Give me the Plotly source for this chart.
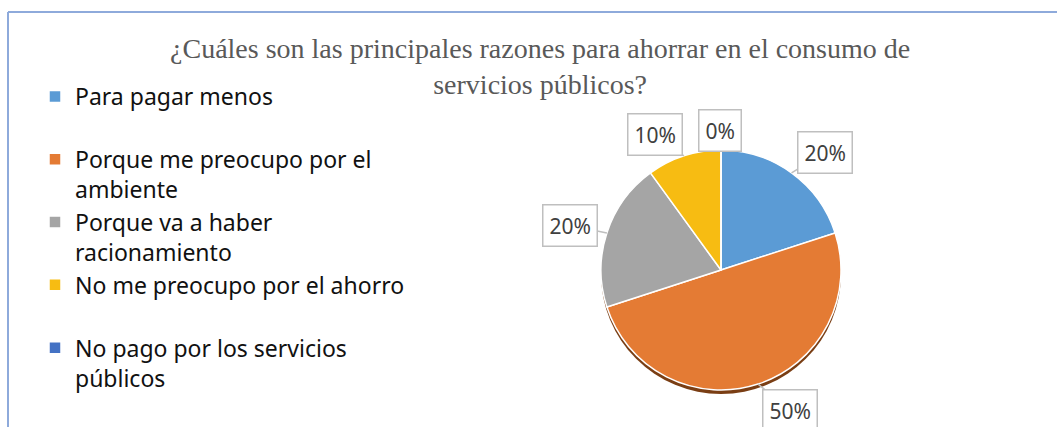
import math
import plotly.graph_objects as go

# ---- data ----
categories = [
    "Para pagar menos",
    "Porque me preocupo por el ambiente",
    "Porque va a haber racionamiento",
    "No me preocupo por el ahorro",
    "No pago por los servicios públicos",
]
legend_labels = [
    "Para pagar menos<br> ",
    "Porque me preocupo por el<br>ambiente",
    "Porque va a haber<br>racionamiento",
    "No me preocupo por el ahorro<br> ",
    "No pago por los servicios<br>públicos",
]
values = [20, 50, 20, 10, 0]
title_text = "¿Cuáles son las principales razones para ahorrar en el consumo de<br>servicios públicos?"

# ---- style ----
colors = ["#5B9BD5", "#E47B34", "#A5A5A5", "#F7BC12", "#4472C4"]
W, H = 1057, 427
cx, cy, r = 721, 270, 120  # pie centre / radius in pixels
label_offsets = [(33, -20), (32, 26), (-37, -7), (-29, -21), (-1, -19)]

dom_x = [(cx - r) / W, (cx + r) / W]
dom_y = [1 - (cy + r) / H, 1 - (cy - r) / H]
sh = 4
dom_y_sh = [1 - (cy + r + sh) / H, 1 - (cy - r + sh) / H]

fig = go.Figure()
# soft shadow under the pie
fig.add_trace(go.Pie(
    values=[1], labels=["sombra"], marker=dict(colors=["#7A3E14"]),
    domain=dict(x=dom_x, y=dom_y_sh), textinfo="none", showlegend=False,
    hoverinfo="skip", sort=False,
))
fig.add_trace(go.Pie(
    labels=legend_labels, values=values, customdata=categories,
    marker=dict(colors=colors, line=dict(color="white", width=1.5)),
    sort=False, direction="clockwise", rotation=0,
    textinfo="none", domain=dict(x=dom_x, y=dom_y),
    hovertemplate="%{customdata}: %{percent}<extra></extra>",
))

# callout labels computed from the slice angles
total = sum(values)
annotations = []
cum = 0
for v, (ox, oy) in zip(values, label_offsets):
    mid = (cum + v / 2) / total * 2 * math.pi
    cum += v
    px = cx + r * math.sin(mid)
    py = cy - r * math.cos(mid)
    pct = round(100 * v / total)
    annotations.append(dict(
        x=px / W, y=1 - py / H, xref="paper", yref="paper",
        text=f"{pct}%", showarrow=True, ax=ox, ay=oy,
        arrowhead=0, arrowwidth=1.5, arrowcolor="#BFBFBF", standoff=0,
        bordercolor="#BFBFBF", borderwidth=1.5, borderpad=6, bgcolor="white",
        font=dict(family="Noto Sans", size=21, color="#404040"),
    ))

fig.update_layout(
    width=W, height=H,
    margin=dict(l=0, r=0, t=0, b=0),
    paper_bgcolor="white", plot_bgcolor="white",
    title=dict(
        text=title_text, x=0.511, xanchor="center", y=1 - 58 / H, yanchor="top",
        font=dict(family="Liberation Serif", size=28, color="#595959"),
    ),
    legend=dict(
        x=35 / W, xanchor="left", y=1 - 75 / H, yanchor="top",
        font=dict(family="Noto Sans", size=23, color="#111111"),
        valign="top", bgcolor="rgba(0,0,0,0)",
    ),
    annotations=annotations,
    shapes=[
        dict(type="line", xref="paper", yref="paper", x0=8 / W, x1=1, y0=1 - 12 / H, y1=1 - 12 / H,
             line=dict(color="#8EAADB", width=2)),
        dict(type="line", xref="paper", yref="paper", x0=8 / W, x1=8 / W, y0=0, y1=1 - 12 / H,
             line=dict(color="#8EAADB", width=2)),
    ],
)

fig.write_html(
    "out.html",
    config={"displayModeBar": False},
    post_script="document.body.style.margin='0';document.body.style.overflow='hidden';",
)
